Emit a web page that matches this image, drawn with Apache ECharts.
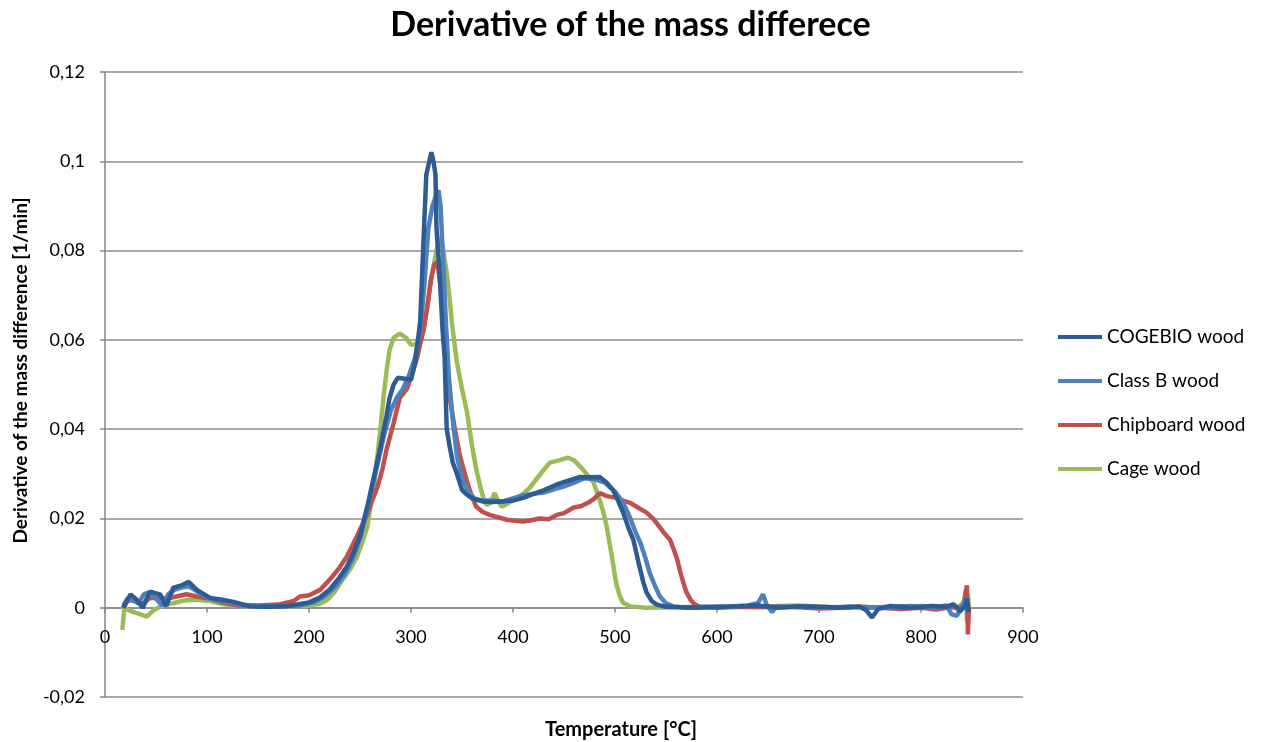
<!DOCTYPE html>
<html><head><meta charset="utf-8">
<script src="https://cdn.jsdelivr.net/npm/echarts@6/dist/echarts.min.js"></script>
<style>html,body{margin:0;padding:0;background:#fff}#c{width:1261px;height:742px}</style>
</head><body><div id="c"></div>
<script>
const seriesNames = ['COGEBIO wood', 'Class B wood', 'Chipboard wood', 'Cage wood'];
const xTicks = [0,100,200,300,400,500,600,700,800,900];
const yTicks = [-0.02,0,0.02,0.04,0.06,0.08,0.1,0.12];

const cogebioT = [18,20,25,31,37,44,54,60,67,75,82,90,103,115,126,142,160,180,200,210,220,230,237,244,250,258,263,270,276,279,283,287,294,300,304,309,312,315,318,320,322,324,325,328,331,333,335,338,341,345,350,355,360,370,380,390,400,410,420,430,443,455,466,475,485,492,498,503,508,513,518,524,528,531,536,541,550,580,600,620,640,660,680,700,720,740,746,752,758,770,790,810,825,832,838,843,845,847];
const cogebioV = [0,0.001,0.003,0.0018,0,0.0036,0.003,0.0004,0.0045,0.005,0.0058,0.004,0.0022,0.0018,0.0013,0.0003,0.0002,0.0004,0.0012,0.0022,0.004,0.0068,0.0092,0.0125,0.016,0.0235,0.0287,0.036,0.043,0.047,0.05,0.0515,0.0513,0.051,0.055,0.064,0.081,0.097,0.1,0.102,0.1,0.097,0.085,0.075,0.062,0.056,0.04,0.036,0.0325,0.03,0.0264,0.0253,0.0245,0.0238,0.0237,0.0238,0.024,0.0246,0.0255,0.0263,0.0276,0.0285,0.0293,0.0292,0.0293,0.028,0.0264,0.024,0.0213,0.018,0.0152,0.0092,0.0055,0.0034,0.0015,0.0007,0.0002,0,0.0002,0.0003,0.0005,0,0.0003,0.0002,0,0.0002,-0.0005,-0.0022,-0.0003,0.0004,0,0.0004,0.0002,0.0008,-0.0008,0.0003,0.002,-0.001];

const classBT = [18,22,28,33,38,44,50,56,62,68,75,82,88,95,103,115,130,150,170,190,205,215,225,235,243,250,256,262,268,274,280,286,292,298,304,309,313,317,321,324,327,329,331,334,337,341,345,350,356,362,370,380,390,400,410,420,430,440,450,460,470,480,490,500,508,515,520,525,530,534,539,544,550,557,570,590,610,630,640,645,649,654,658,670,690,710,730,750,770,790,810,825,830,835,840,844,846];
const classBV = [0.0005,0.002,0.0015,0.001,0.003,0.0035,0.002,0.0005,0.003,0.004,0.0045,0.0048,0.004,0.003,0.002,0.0015,0.0008,0.0004,0.0003,0.0005,0.0012,0.0025,0.0045,0.0075,0.011,0.0155,0.021,0.027,0.033,0.039,0.044,0.047,0.049,0.052,0.056,0.062,0.072,0.085,0.09,0.092,0.0935,0.09,0.08,0.065,0.052,0.042,0.034,0.029,0.026,0.0245,0.024,0.024,0.0238,0.0245,0.0252,0.0255,0.0258,0.0265,0.0272,0.028,0.029,0.0288,0.028,0.026,0.0235,0.02,0.017,0.0145,0.011,0.0078,0.005,0.0025,0.001,0.0003,0,0.0002,0.0003,0.0005,0.001,0.003,0.0005,-0.001,0.0003,0.0002,0.0002,0,0.0003,0,0.0002,0.0004,0,0.0005,-0.0015,-0.0018,0,0.002,-0.001];

const chipT = [18,22,27,33,38,44,52,60,70,80,90,103,115,130,150,170,185,191,200,211,223,230,237,247,256,262,267,272,276,283,289,296,302,306,309,313,317,320,323,326,329,332,335,338,343,348,354,358,364,370,377,385,394,402,410,418,426,435,443,450,459,467,475,480,485,492,501,508,515,522,531,538,544,549,554,558,561,564,567,570,574,578,583,600,620,640,660,680,700,720,740,760,780,800,815,830,840,843,845,846,847];
const chipV = [0,0.0015,0.0018,0.001,0.001,0.0022,0.0022,0.002,0.0025,0.003,0.0025,0.002,0.0012,0.0005,0.0005,0.0007,0.0015,0.0025,0.0028,0.004,0.007,0.009,0.0114,0.016,0.0204,0.024,0.027,0.031,0.0354,0.0414,0.047,0.049,0.053,0.056,0.059,0.063,0.069,0.074,0.077,0.0773,0.072,0.0675,0.055,0.047,0.04,0.034,0.029,0.026,0.0226,0.0215,0.0208,0.0203,0.0197,0.0195,0.0193,0.0196,0.02,0.0198,0.0208,0.0212,0.0224,0.0228,0.0237,0.0245,0.0257,0.025,0.0246,0.024,0.0235,0.0225,0.0213,0.0198,0.018,0.0165,0.0152,0.0128,0.0108,0.008,0.0056,0.0035,0.0018,0.0008,0.0002,0,0.0002,0.0001,0.0002,0.0001,-0.0002,0,0.0002,0,-0.0003,0,-0.0004,0.0002,0,0.002,0.005,-0.006,0];

const cageT = [17,19,23,28,35,41,48,54,60,67,75,83,92,103,115,125,140,160,180,200,210,218,225,233,240,247,252,257,263,267,270,273,276,279,283,289,295,300,305,309,312,316,319,322,325,328,331,335,338,340,345,350,355,360,364,368,371,374,378,382,385,389,396,404,410,417,422,427,436,445,454,460,466,472,479,485,489,492,495,497,500,502,505,508,515,530,560,580,600,620,640,660,680,700,720,740,760,780,800,820,835,842,844,845,846,847];
const cageV = [-0.005,0,-0.0005,-0.001,-0.0015,-0.002,-0.0005,0.0002,0.0008,0.001,0.0015,0.0018,0.0017,0.0015,0.0008,0.0005,0.0003,0.0005,0.0003,0.0005,0.0008,0.0018,0.0035,0.0063,0.0085,0.0114,0.0145,0.018,0.0264,0.034,0.04,0.047,0.053,0.0578,0.0605,0.0614,0.0605,0.0589,0.059,0.06,0.062,0.0675,0.073,0.0764,0.08,0.0829,0.081,0.075,0.069,0.064,0.055,0.049,0.0437,0.036,0.031,0.027,0.0245,0.023,0.0235,0.0257,0.024,0.0226,0.0235,0.0246,0.0255,0.027,0.0285,0.03,0.0325,0.033,0.0336,0.033,0.0316,0.03,0.028,0.0242,0.021,0.018,0.014,0.0114,0.007,0.0047,0.0025,0.0011,0.0003,0,0.0001,0.0002,0,0.0003,0.0002,0.0004,0.0005,0.0003,0.0001,0.0002,0,0.0003,0.0004,0.0001,0,0.001,0.004,-0.003,0.003,0];

const colors = ['#2D5B94', '#4F81BD', '#C0504D', '#9BBB59'];
const zip = (t, v) => t.map((x, i) => [x, v[i]]);
const allData = [zip(cogebioT, cogebioV), zip(classBT, classBV), zip(chipT, chipV), zip(cageT, cageV)];

const chart = echarts.init(document.getElementById('c'), null, {renderer: 'canvas'});
const font = 'Lato, "Open Sans", sans-serif';
chart.setOption({
  animation: false,
  backgroundColor: '#fff',
  color: colors,
  title: {
    text: 'Derivative of the mass differece',
    left: 'center', top: 3,
    textStyle: {fontFamily: font, fontWeight: 'bold', fontSize: 34, color: '#000'}
  },
  grid: {left: 105, right: 238, top: 72, bottom: 45, containLabel: false, outerBoundsMode: 'none'},
  legend: {
    orient: 'vertical', left: 1053, top: 321,
    itemWidth: 44, itemHeight: 4, itemGap: 22, icon: 'rect',
    data: seriesNames,
    textStyle: {fontFamily: font, fontSize: 19, color: '#000', lineHeight: 22}
  },
  xAxis: {
    type: 'value', min: 0, max: 900, interval: 100,
    name: 'Temperature [°C]', nameLocation: 'middle', nameGap: 23,
    nameTextStyle: {fontFamily: font, fontWeight: 'bold', fontSize: 20, color: '#000', padding: [0, 0, 0, 114]},
    axisLine: {onZero: true, lineStyle: {color: '#868686', width: 1.5}},
    axisTick: {show: true, length: 5, lineStyle: {color: '#868686', width: 1.5}},
    axisLabel: {margin: -69, fontFamily: font, fontSize: 18, color: '#000',
      customValues: xTicks, formatter: v => String(v)},
    splitLine: {show: false}
  },
  yAxis: {
    type: 'value', min: -0.02, max: 0.12, interval: 0.02,
    name: 'Derivative of the mass difference [1/min]', nameLocation: 'middle', nameGap: 75,
    nameTextStyle: {fontFamily: font, fontWeight: 'bold', fontSize: 19, color: '#000', padding: [0, 0, 0, 28]},
    axisLine: {show: true, lineStyle: {color: '#868686', width: 1.5}},
    axisTick: {show: true, length: 5, lineStyle: {color: '#868686', width: 1.5}},
    axisLabel: {margin: 20, fontFamily: font, fontSize: 18, color: '#000',
      formatter: v => String(Math.round(v * 100) / 100).replace('.', ',')},
    splitLine: {show: true, lineStyle: {color: '#8c8c8c', width: 1.5}}
  },
  series: seriesNames.map((n, i) => ({
    name: n, type: 'line', data: allData[i], showSymbol: false, symbol: 'none',
    lineStyle: {width: 4.5, color: colors[i]}, itemStyle: {color: colors[i]}, z: 10 - i
  }))
});
</script></body></html>
